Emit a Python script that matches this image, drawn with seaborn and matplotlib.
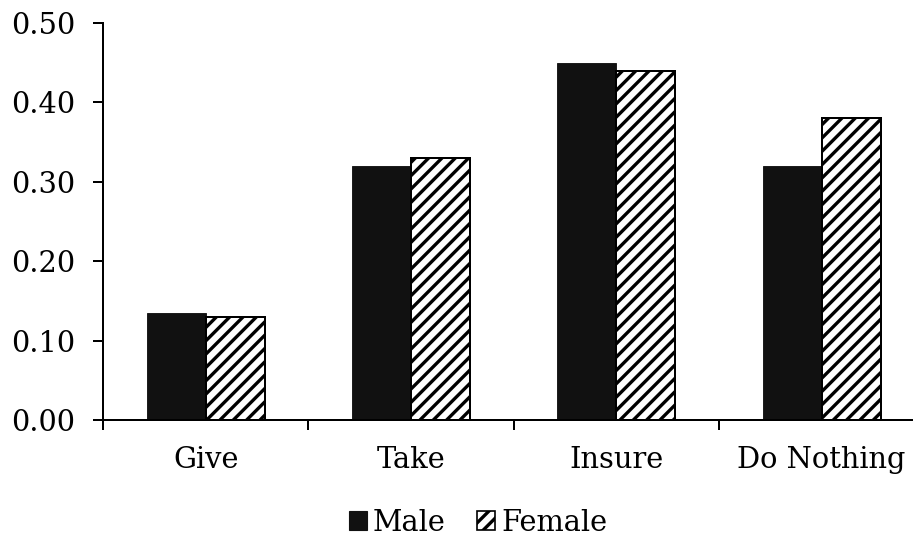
import matplotlib
matplotlib.use("Agg")
import matplotlib.pyplot as plt
from matplotlib.patches import Patch
from matplotlib.ticker import FuncFormatter
import pandas as pd
import seaborn as sns

categories = ["Give", "Take", "Insure", "Do Nothing"]
groups = ["Male", "Female"]
male = [0.135, 0.32, 0.45, 0.32]
female = [0.13, 0.33, 0.44, 0.38]
yticks = [0.0, 0.1, 0.2, 0.3, 0.4, 0.5]

df = pd.DataFrame({
    "category": categories * 2,
    "share": male + female,
    "group": ["Male"] * len(male) + ["Female"] * len(female),
})

sns.set_theme(style="white")
plt.rcParams["font.family"] = ["DejaVu Serif"]
plt.rcParams["font.size"] = 26
plt.rcParams["text.color"] = "black"
plt.rcParams["hatch.linewidth"] = 3.0
plt.rcParams["hatch.color"] = "black"

DPI = 80
fig = plt.figure(figsize=(913 / DPI, 538 / DPI), dpi=DPI)
ax = fig.add_axes([103 / 913, 1 - 420 / 538, 810 / 913, (420 - 23) / 538])

sns.barplot(
    data=df, x="category", y="share", hue="group", hue_order=groups,
    palette={"Male": "#111111", "Female": "white"},
    width=0.575, gap=0, edgecolor="black", linewidth=1.8,
    legend=False, ax=ax,
)

# hatch the female bars, keep the male bars plain black
for bar in ax.containers[0]:
    bar.set_linewidth(0.8)
    bar.set_edgecolor("#111111")
for bar in ax.containers[1]:
    bar.set_hatch("//")

ax.set_ylim(0, 0.5)
ax.set_yticks(yticks)
ax.yaxis.set_major_formatter(FuncFormatter(lambda v, _: f"{v:.2f}"))
ax.set_xlim(-0.5, -0.5 + 810 / 205.3)

# boundary ticks between categories, labels at the category centres
n = len(categories)
ax.set_xticks([i - 0.5 for i in range(n)])
ax.set_xticklabels([])
ax.set_xticks(range(n), minor=True)
ax.set_xticklabels(categories, minor=True)
ax.tick_params(axis="x", which="major", direction="out", length=9, width=1.8,
               color="black", bottom=True)
ax.tick_params(axis="x", which="minor", length=0, pad=23, labelsize=26,
               labelcolor="black")
ax.tick_params(axis="y", direction="out", length=9, width=1.8, color="black",
               left=True, pad=16, labelsize=26, labelcolor="black")

ax.set_xlabel("")
ax.set_ylabel("")
for side in ("top", "right"):
    ax.spines[side].set_visible(False)
for side in ("left", "bottom"):
    ax.spines[side].set_color("black")
    ax.spines[side].set_linewidth(1.8)

handles = [
    Patch(facecolor="#111111", edgecolor="#111111"),
    Patch(facecolor="white", edgecolor="black", hatch="//", linewidth=1.5),
]
fig.legend(handles, groups, loc="center", bbox_to_anchor=(478 / 913, 1 - 523 / 538),
           ncol=2, frameon=False, handlelength=0.62, handleheight=0.62,
           handletextpad=0.2, columnspacing=1.1, fontsize=26, borderpad=0,
           labelcolor="black")

fig.savefig("out.png", dpi=DPI)
